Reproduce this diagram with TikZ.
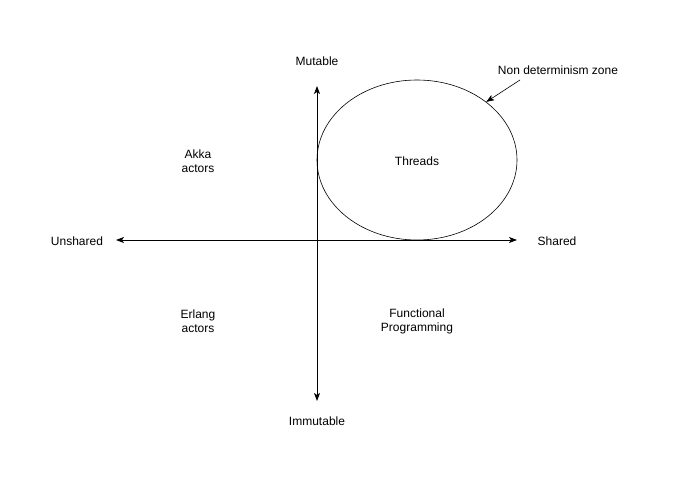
\documentclass[tikz,border=0pt]{standalone}
\usepackage{fontspec}
\setmainfont{Liberation Sans}
\usetikzlibrary{arrows.meta,shapes.geometric}
\begin{document}
\begin{tikzpicture}[x=1pt,y=-1pt,
  lbl/.style={font=\fontsize{12}{14}\selectfont, align=center, inner sep=0pt},
  axis/.style={line width=0.8pt, {Stealth[length=8pt,width=6pt,inset=2pt]}-{Stealth[length=8pt,width=6pt,inset=2pt]}},
  pointer/.style={line width=0.6pt, -{Stealth[length=8pt,width=6pt,inset=2pt]}}]
\useasboundingbox[fill=white] (0,0) rectangle (687,481);
\coordinate (top) at (317,86);
\coordinate (bot) at (317,401);
\coordinate (lft) at (116,240);
\coordinate (rgt) at (517,240);
\draw[axis] (bot) -- (top);
\draw[axis] (lft) -- (rgt);
\node[draw, ellipse, minimum width=200pt, minimum height=160pt, inner sep=0pt, line width=0.6pt] (zone) at (417,160) {};
\node[lbl] (mut) at (317,61) {Mutable};
\node[lbl] (imm) at (317,421) {Immutable};
\node[lbl] (uns) at (77,241) {Unshared};
\node[lbl] (sha) at (557,241) {Shared};
\node[lbl] (akka) at (198,161) {Akka\\actors};
\node[lbl] (erl) at (198,321) {Erlang\\actors};
\node[lbl] (fp) at (417,321) {Functional\\Programming};
\node[lbl] (thr) at (417,161) {Threads};
\node[lbl] (ndz) at (558,70) {Non determinism zone};
\coordinate (ptrstart) at (520,80);
\draw[pointer] (ptrstart) -- (zone.40);
\end{tikzpicture}
\end{document}
